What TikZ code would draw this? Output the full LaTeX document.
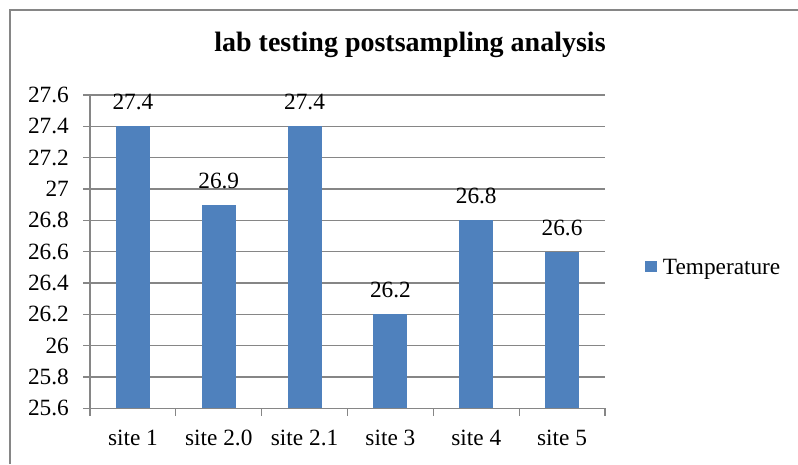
\documentclass[tikz,border=0pt]{standalone}
\usepackage{fontspec}
\setmainfont{Liberation Serif}
\definecolor{barblue}{RGB}{79,129,189}
\definecolor{gridgray}{RGB}{134,134,134}
\begin{document}
\begin{tikzpicture}[x=1pt,y=-1pt,
  lbl/.style={font=\fontsize{23.3}{28}\selectfont, inner sep=0pt},
  gridline/.style={draw=gridgray, line width=1.3pt},
  bar/.style={fill=barblue, draw=none}]
\useasboundingbox (0,0) rectangle (798,464);
\fill[white] (0,0) rectangle (798,464);
\draw[gridline] (10,464) -- (10,10) -- (798,10);
% title
\node[lbl, font=\fontsize{28}{32}\selectfont\bfseries, anchor=base] (title) at (410,51) {lab testing postsampling analysis};
% gridlines and y labels
\foreach \k/\t in {0/25.6,1/25.8,2/26,3/26.2,4/26.4,5/26.6,6/26.8,7/27,8/27.2,9/27.4,10/27.6}{
  \pgfmathsetmacro{\yy}{408.3-\k*31.33}
  \draw[gridline] (83,\yy) -- (605,\yy);
  \node[lbl, anchor=east] (ylab\k) at (69,\yy) {\t};
}
% bars
\foreach \i/\v/\name in {1/27.4/site 1,2/26.9/site 2.0,3/27.4/site 2.1,4/26.2/site 3,5/26.8/site 4,6/26.6/site 5}{
  \pgfmathsetmacro{\cx}{90+(\i-0.5)*85.83}
  \pgfmathsetmacro{\top}{408.3-(\v-25.6)*156.65}
  \fill[bar] (\cx-17,408.3) rectangle (\cx+17,\top);
  \node[lbl] (val\i) at (\cx,\top-24) {\v};
  \node[lbl, anchor=base] (cat\i) at (\cx,445) {\name};
}
% axes
\draw[gridline] (90,95) -- (90,416);
\draw[gridline] (83,408.3) -- (605,408.3);
\foreach \i in {0,...,6}{
  \pgfmathsetmacro{\tx}{90+\i*85.83}
  \draw[gridline] (\tx,408.3) -- (\tx,416);
}
% legend
\fill[barblue] (645,260.7) rectangle (656.7,272.3);
\node[lbl, anchor=base west] (legend) at (662.7,274) {Temperature};
\end{tikzpicture}
\end{document}
